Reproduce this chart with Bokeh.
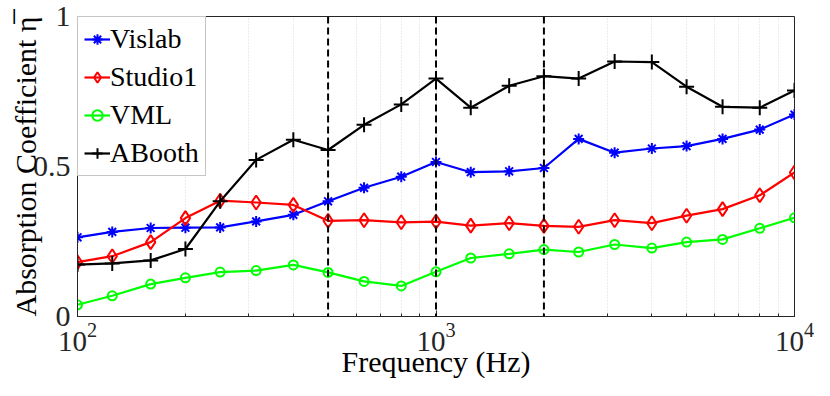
from bokeh.plotting import figure
from bokeh.models import FixedTicker, Span, Legend, LegendItem, Range1d
from bokeh.embed import file_html
from bokeh.resources import INLINE

freqs = [100, 125, 160, 200, 250, 315, 400, 500, 630, 800, 1000, 1250, 1600, 2000,
         2500, 3150, 4000, 5000, 6300, 8000, 10000]
vislab = [0.264, 0.282, 0.295, 0.296, 0.297, 0.317, 0.339, 0.384, 0.429, 0.466, 0.515,
          0.481, 0.484, 0.495, 0.592, 0.546, 0.560, 0.568, 0.592, 0.623, 0.673]
studio1 = [0.181, 0.201, 0.248, 0.328, 0.386, 0.380, 0.372, 0.319, 0.321, 0.314, 0.316,
           0.303, 0.311, 0.302, 0.299, 0.321, 0.311, 0.336, 0.358, 0.404, 0.480]
vml = [0.039, 0.069, 0.108, 0.129, 0.148, 0.153, 0.172, 0.147, 0.117, 0.102, 0.149,
       0.195, 0.209, 0.223, 0.215, 0.240, 0.228, 0.248, 0.257, 0.294, 0.329]
abooth = [0.173, 0.177, 0.187, 0.225, 0.384, 0.522, 0.589, 0.555, 0.639, 0.707, 0.793,
          0.696, 0.769, 0.801, 0.793, 0.850, 0.848, 0.766, 0.699, 0.696, 0.753]
dashed_freqs = [500, 1000, 2000]
y_ticks = [0, 0.5, 1]
y_tick_labels = {0: "0", 0.5: "0.5", 1: "1"}

FONT = "Liberation Serif"
AX = "#262626"

p = figure(width=814, height=380, x_axis_type="log", x_range=Range1d(100, 10000),
           y_range=Range1d(0, 1), output_backend="svg", toolbar_location=None,
           min_border_left=77, min_border_right=20, min_border_top=16, min_border_bottom=10)
p.outline_line_color = AX
p.outline_line_width = 1

# grids
p.ygrid.grid_line_color = None
p.xgrid.grid_line_color = "#d9d9d9"
p.xgrid.grid_line_dash = "1 2"
p.xgrid.minor_grid_line_color = "#d9d9d9"
p.xgrid.minor_grid_line_dash = "1 2"

# axes
xa = p.xaxis[0]
xa.axis_label = "Frequency (Hz)"
xa.axis_label_text_font = FONT
xa.axis_label_text_font_style = "normal"
xa.axis_label_text_font_size = "30px"
xa.axis_label_text_color = "black"
xa.axis_label_standoff = -9
xa.major_label_text_font = FONT
xa.major_label_text_font_size = "29px"
xa.major_label_text_color = "#262626"
xa.major_label_standoff = 6
xa.major_tick_in = 6
xa.major_tick_out = 0
xa.minor_tick_in = 3
xa.minor_tick_out = 0
xa.axis_line_color = AX
xa.major_tick_line_color = AX
xa.minor_tick_line_color = AX

ya = p.yaxis[0]
ya.axis_label = "Absorption Coefficient \u03b7\u0305"
ya.axis_label_text_font = FONT
ya.axis_label_text_font_style = "normal"
ya.axis_label_text_font_size = "30px"
ya.axis_label_text_color = "black"
ya.axis_label_standoff = -12
ya.ticker = FixedTicker(ticks=y_ticks)
ya.major_label_overrides = y_tick_labels
ya.major_label_text_font = FONT
ya.major_label_text_font_size = "30px"
ya.major_label_text_color = "#262626"
ya.major_label_standoff = 7
ya.major_tick_in = 6
ya.major_tick_out = 0
ya.minor_tick_line_color = None
ya.axis_line_color = AX
ya.major_tick_line_color = AX

for f in dashed_freqs:
    p.add_layout(Span(location=f, dimension="height", line_color="black",
                      line_dash="7 4", line_width=2))

series = [
    ("Vislab", vislab, "#0000ff", "asterisk", 11),
    ("Studio1", studio1, "#ff0000", "diamond", 14),
    ("VML", vml, "#00ff00", "circle", 9),
    ("ABooth", abooth, "black", "cross", 15),
]
items = []
for name, ys, col, mk, sz in series:
    l = p.line(freqs, ys, line_color=col, line_width=2.2)
    s = p.scatter(freqs, ys, marker=mk, size=sz, line_color=col, fill_color=None,
                  line_width=2)
    items.append(LegendItem(label=name, renderers=[l, s]))

legend = Legend(items=items, location="top_left", label_text_font=FONT,
                label_text_font_size="28px", label_text_color="black",
                background_fill_color="white",
                background_fill_alpha=1, border_line_color="#8c8c8c",
                border_line_width=1, margin=0, padding=6, spacing=6,
                glyph_width=26, glyph_height=28, label_standoff=0, label_height=28)
p.add_layout(legend)

with open("out.html", "w") as fh:
    fh.write(file_html(p, INLINE))
